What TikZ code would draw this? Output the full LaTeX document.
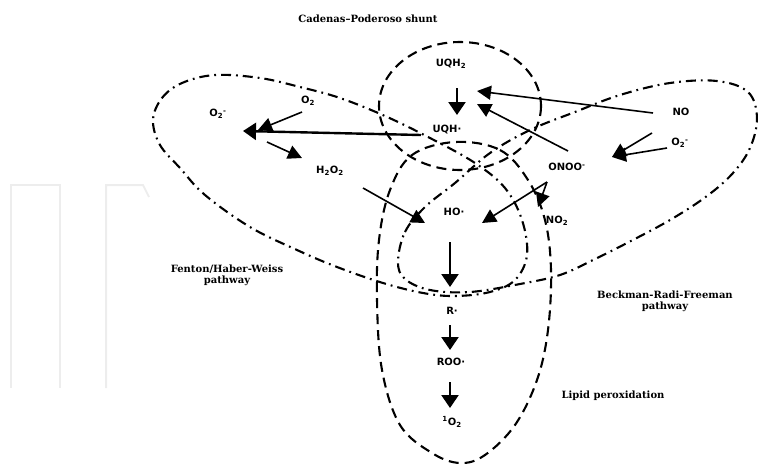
\documentclass[tikz,border=0pt]{standalone}
\usepackage{fontspec}
\setmainfont{DejaVu Sans}
\newfontfamily\titlefont{DejaVu Serif}
\usetikzlibrary{arrows.meta}
\begin{document}
\begin{tikzpicture}[x=1pt,y=-1pt,
  chem/.style={font=\bfseries\fontsize{10}{12}\selectfont, inner sep=0pt},
  ttl/.style={font=\titlefont\bfseries\fontsize{10}{12}\selectfont, inner sep=0pt, align=center},
  rx/.style={line width=1.6pt, -{Triangle[length=14pt,width=14pt]}},
  vx/.style={line width=2.4pt, -{Triangle[length=13pt,width=17pt]}},
  dsh/.style={line width=2.1pt, dash pattern=on 10pt off 6pt},
  ddot/.style={line width=2.1pt, dash pattern=on 10pt off 5pt on 1.8pt off 5pt},
  wm/.style={draw=black!7, line width=2pt}]
\useasboundingbox (0,0) rectangle (758,464);
% faint watermark
\draw[wm] (11,388) -- (11,185) -- (60,185) -- (60,388);
\draw[wm] (106,388) -- (106,185) -- (143,185) -- (149,197);
% regions
\draw[dsh] (460,106) ellipse [x radius=81, y radius=64];
\draw[dsh] plot[smooth cycle, tension=0.6] coordinates {(455,142) (500,150) (528,180) (545,220) (551,270) (548,330) (537,380) (515,425) (485,455) (460,463) (432,453) (400,425) (382,370) (377,300) (379,240) (390,190) (412,155)};
\draw[ddot] plot[smooth cycle, tension=0.6] coordinates {(153,120) (162,98) (182,83) (215,75) (260,78) (300,87) (340,98) (385,116) (430,138) (475,163) (505,188) (522,220) (527,255) (515,280) (490,292) (455,296) (423,293) (383,283) (337,267) (297,250) (250,227) (205,195) (180,168) (160,145)};
\draw[ddot] plot[smooth cycle, tension=0.6] coordinates {(398,262) (405,232) (425,207) (455,183) (490,153) (530,130) (575,112) (620,95) (670,83) (717,81) (748,92) (757,118) (750,148) (733,173) (707,196) (670,220) (627,243) (593,260) (560,275) (520,284) (470,292) (430,290) (405,279)};
% labels
\node[ttl] (tcp) at (368,19) {Cadenas–Poderoso shunt};
\node[ttl] (tfh) at (227,275) {Fenton/Haber-Weiss\\[-1pt]pathway};
\node[ttl] (tbr) at (665,301) {Beckman-Radi-Freeman\\[-1pt]pathway};
\node[ttl] (tlp) at (613,396) {Lipid peroxidation};
\node[chem] (uqh2) at (451,64) {UQH\textsubscript{2}};
\node[chem] (uqh) at (447,130) {UQH·};
\node[chem] (o2ml) at (218,114) {O\textsubscript{2}\textsuperscript{-}};
\node[chem] (o2) at (308,101) {O\textsubscript{2}};
\node[chem] (h2o2) at (330,171) {H\textsubscript{2}O\textsubscript{2}};
\node[chem] (ho) at (454,212) {HO·};
\node[chem] (r) at (452,311) {R·};
\node[chem] (roo) at (451,362) {ROO·};
\node[chem] (so2) at (452,422) {\textsuperscript{1}O\textsubscript{2}};
\node[chem] (no) at (681,112) {NO};
\node[chem] (o2mr) at (680,143) {O\textsubscript{2}\textsuperscript{-}};
\node[chem] (onoo) at (567,167) {ONOO\textsuperscript{-}};
\node[chem] (no2) at (557,221) {NO\textsubscript{2}};
% arrow end points
\coordinate (c1s) at (457,88);  \coordinate (c1e) at (457,115);
\coordinate (c2s) at (653,113); \coordinate (c2e) at (477,91);
\coordinate (c3s) at (568,151); \coordinate (c3e) at (477,104);
\coordinate (c4s) at (421,135); \coordinate (c4e) at (243,131);
\coordinate (c5s) at (302,112); \coordinate (c5e) at (258,130);
\coordinate (c6s) at (267,142); \coordinate (c6e) at (302,158);
\coordinate (c7s) at (363,188); \coordinate (c7e) at (425,223);
\coordinate (c8s) at (547,182); \coordinate (c8e) at (482,223);
\coordinate (c9e) at (538,207);
\coordinate (c10s) at (652,133); \coordinate (c10e) at (612,157);
\coordinate (c11s) at (667,148);
\coordinate (c12s) at (450,242); \coordinate (c12e) at (450,287);
\coordinate (c13s) at (450,325); \coordinate (c13e) at (450,350);
\coordinate (c14s) at (450,382); \coordinate (c14e) at (450,408);
% arrows
\draw[vx] (c1s) -- (c1e);
\draw[rx] (c2s) -- (c2e);
\draw[rx] (c3s) -- (c3e);
\draw[vx] (c4s) -- (c4e);
\draw[rx] (c5s) -- (c5e);
\draw[rx] (c6s) -- (c6e);
\draw[rx] (c7s) -- (c7e);
\draw[rx] (c8s) -- (c8e);
\draw[rx] (c8s) -- (c9e);
\draw[rx] (c10s) -- (c10e);
\draw[rx] (c11s) -- (c10e);
\draw[vx] (c12s) -- (c12e);
\draw[vx] (c13s) -- (c13e);
\draw[vx] (c14s) -- (c14e);
\end{tikzpicture}
\end{document}
